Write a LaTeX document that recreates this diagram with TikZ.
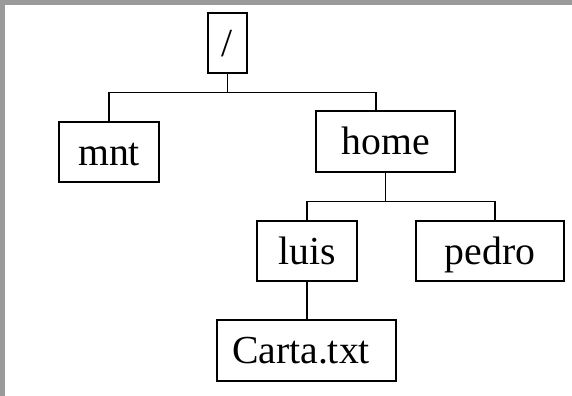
\documentclass[tikz,border=0pt]{standalone}
\usepackage{fontspec}
\setmainfont{Liberation Serif}
\usepackage{tikz}
\usetikzlibrary{positioning}
\usepackage{xcolor}
\definecolor{framegray}{RGB}{154,154,154}

\tikzset{
  dirbox/.style={draw,line width=1.1pt,inner sep=0pt,minimum height=45pt,
    text height=26.7pt,text depth=6.5pt,font=\fontsize{29.8pt}{36pt}\selectfont},
  branch/.style={line width=1.1pt}
}

\begin{document}
\begin{tikzpicture}[x=0.75pt,y=-0.75pt]
      \useasboundingbox (0,0) rectangle (572,396);
      \fill[framegray] (0,0) rectangle (572,4.7);
      \fill[framegray] (0,0) rectangle (5,396);

      \node[dirbox,minimum width=29.25pt] (root) at (227.5,43) {/};
      \node[dirbox,minimum width=75pt] (mnt) at (109,152) {mnt};
      \node[dirbox,minimum width=104.25pt,minimum height=45.75pt] (home) at (385.5,141.5) {home};
      \node[dirbox,minimum width=75pt] (luis) at (307,251) {luis};
      \node[dirbox,minimum width=111pt] (pedro) at (490,251) {pedro};
      \node[dirbox,minimum height=45.75pt,text width=111.75pt,inner xsep=11.25pt,align=left]
        (carta) at (306.5,350.5) {Carta.txt};

      \draw[branch] (root.south) -- ++(0,19) -| (mnt.north);
      \draw[branch] (root.south) -- ++(0,19) -| ([xshift=-7.1pt]home.north);
      \draw[branch] (home.south) -- ++(0,29) -| (luis.north);
      \draw[branch] (home.south) -- ++(0,29) -| ([xshift=3.75pt]pedro.north);
      \draw[branch] (luis.south) -- (luis.south |- carta.north);
    \end{tikzpicture}
\end{document}
